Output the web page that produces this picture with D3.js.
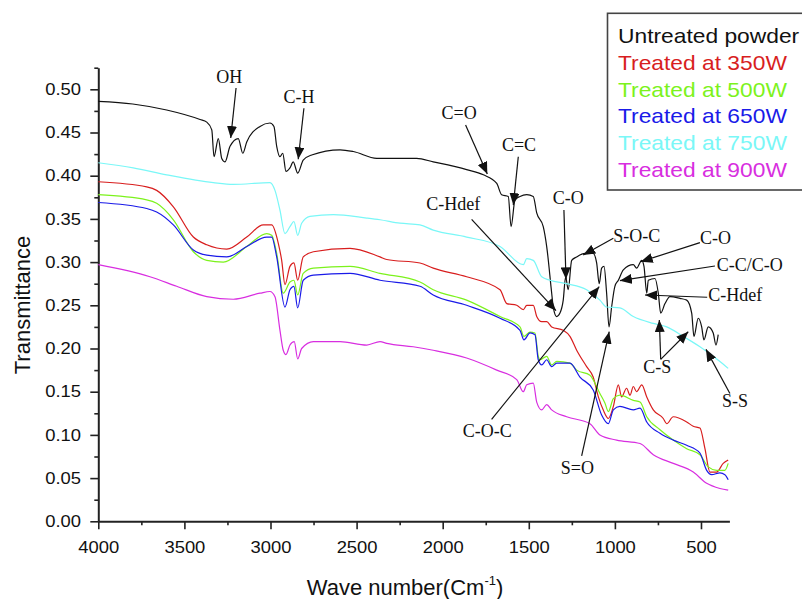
<!DOCTYPE html>
<html>
<head>
<meta charset="utf-8">
<script src="https://cdn.jsdelivr.net/npm/d3@7"></script>
<style>
  body { margin: 0; background: #fff; }
  svg { display: block; }
  text { font-family: "Liberation Sans", Arial, sans-serif; fill: #111; }
  .note { font-family: "Liberation Serif", "Times New Roman", serif; font-size: 18px; }
</style>
</head>
<body>
<svg id="graph" width="802" height="599"></svg>
<script>
// spectra: [wave number, transmittance]
const untreated = [
  [4000,0.486],[3800,0.483],[3603,0.476],[3409,0.465],[3370,0.462],[3341,0.453],[3328,0.422],[3303,0.443],
  [3283,0.420],[3264,0.416],[3235,0.434],[3187,0.443],[3161,0.426],[3138,0.439],[3061,0.457],[3003,0.461],
  [2980,0.457],[2964,0.434],[2945,0.422],[2929,0.426],[2910,0.405],[2887,0.409],[2868,0.416],[2842,0.403],
  [2810,0.418],[2761,0.424],[2596,0.430],[2519,0.428],[2383,0.420],[2151,0.420],[2055,0.416],[1861,0.407],
  [1764,0.401],[1686,0.391],[1658,0.378],[1619,0.376],[1603,0.341],[1580,0.372],[1551,0.376],[1512,0.378],
  [1474,0.376],[1454,0.357],[1416,0.341],[1396,0.318],[1367,0.264],[1358,0.248],[1338,0.237],[1319,0.241],
  [1300,0.256],[1286,0.283],[1271,0.268],[1251,0.302],[1222,0.306],[1174,0.310],[1126,0.310],[1106,0.299],
  [1091,0.275],[1077,0.293],[1063,0.295],[1048,0.264],[1034,0.225],[1019,0.248],[1000,0.272],[980,0.279],
  [951,0.291],[893,0.297],[874,0.293],[844,0.302],[831,0.295],[815,0.264],[806,0.279],[767,0.281],
  [748,0.264],[734,0.241],[709,0.252],[680,0.260],[622,0.258],[583,0.256],[554,0.241],[541,0.214],
  [516,0.235],[496,0.225],[483,0.210],[458,0.225],[429,0.218],[413,0.204],[400,0.216]
]

const treated_350 = [
  [4000,0.393],[3719,0.387],[3661,0.383],[3564,0.364],[3448,0.329],[3370,0.320],[3254,0.315],[3138,0.329],
  [3042,0.343],[2993,0.343],[2955,0.322],[2935,0.302],[2916,0.274],[2887,0.295],[2864,0.299],[2842,0.279],
  [2810,0.306],[2751,0.312],[2538,0.316],[2364,0.306],[2325,0.303],[2132,0.299],[2055,0.293],[1861,0.283],
  [1667,0.268],[1628,0.252],[1570,0.250],[1532,0.245],[1512,0.250],[1474,0.250],[1454,0.237],[1425,0.231],
  [1396,0.231],[1367,0.225],[1300,0.221],[1261,0.214],[1222,0.198],[1164,0.179],[1126,0.167],[1096,0.144],
  [1068,0.129],[1038,0.119],[1009,0.133],[980,0.158],[961,0.144],[932,0.154],[912,0.146],[893,0.156],
  [874,0.150],[844,0.158],[815,0.144],[777,0.129],[719,0.119],[699,0.113],[661,0.121],[583,0.115],
  [545,0.110],[506,0.108],[477,0.084],[448,0.057],[409,0.057],[371,0.067],[342,0.071]
]

const treated_500 = [
  [4000,0.378],[3719,0.372],[3661,0.368],[3564,0.349],[3448,0.312],[3370,0.302],[3274,0.300],[3138,0.318],
  [3022,0.333],[2993,0.331],[2964,0.310],[2926,0.264],[2887,0.277],[2864,0.279],[2842,0.262],[2810,0.287],
  [2751,0.293],[2538,0.295],[2364,0.287],[2132,0.277],[2055,0.268],[1861,0.256],[1667,0.237],[1551,0.225],
  [1528,0.214],[1493,0.219],[1464,0.218],[1445,0.191],[1435,0.187],[1396,0.191],[1367,0.181],[1338,0.185],
  [1261,0.183],[1222,0.175],[1145,0.169],[1087,0.148],[1058,0.137],[1038,0.127],[1009,0.142],[971,0.146],
  [893,0.140],[854,0.138],[815,0.121],[738,0.106],[661,0.094],[583,0.084],[506,0.077],[458,0.063],
  [409,0.059],[361,0.059],[342,0.067]
]

const treated_650 = [
  [4000,0.369],[3719,0.362],[3661,0.358],[3564,0.343],[3448,0.314],[3370,0.308],[3254,0.306],[3138,0.318],
  [3022,0.329],[2993,0.329],[2964,0.306],[2916,0.248],[2887,0.268],[2864,0.272],[2842,0.247],[2810,0.279],
  [2751,0.285],[2538,0.287],[2364,0.279],[2132,0.272],[2055,0.262],[1861,0.250],[1667,0.235],[1551,0.221],
  [1528,0.210],[1493,0.218],[1464,0.216],[1445,0.187],[1425,0.181],[1396,0.187],[1367,0.179],[1338,0.183],
  [1261,0.183],[1203,0.167],[1126,0.152],[1077,0.123],[1038,0.113],[1009,0.129],[971,0.133],[893,0.129],
  [854,0.131],[815,0.115],[738,0.102],[661,0.094],[583,0.088],[506,0.079],[467,0.059],[438,0.054],
  [390,0.056],[361,0.054],[342,0.048]
]

const treated_750 = [
  [4000,0.415],[3797,0.409],[3603,0.401],[3332,0.392],[3216,0.390],[3003,0.392],[2974,0.383],[2945,0.360],
  [2916,0.333],[2887,0.341],[2864,0.347],[2842,0.331],[2819,0.345],[2771,0.353],[2635,0.355],[2441,0.351],
  [2364,0.349],[2248,0.345],[2132,0.343],[2055,0.337],[1861,0.329],[1667,0.318],[1532,0.297],[1512,0.304],
  [1474,0.302],[1425,0.283],[1377,0.279],[1280,0.275],[1164,0.268],[1087,0.256],[1048,0.248],[971,0.247],
  [893,0.237],[777,0.229],[699,0.225],[603,0.214],[506,0.202],[390,0.185],[342,0.177]
]

const treated_900 = [
  [4000,0.297],[3700,0.283],[3545,0.272],[3370,0.260],[3216,0.257],[3061,0.264],[3003,0.266],[2974,0.260],
  [2945,0.221],[2926,0.198],[2910,0.193],[2887,0.204],[2862,0.208],[2842,0.188],[2819,0.200],[2751,0.208],
  [2596,0.208],[2441,0.204],[2364,0.208],[2325,0.206],[2171,0.202],[2055,0.198],[1861,0.189],[1686,0.175],
  [1570,0.164],[1532,0.150],[1512,0.158],[1474,0.160],[1454,0.138],[1425,0.129],[1396,0.135],[1367,0.129],
  [1280,0.121],[1145,0.113],[1087,0.100],[990,0.094],[854,0.090],[777,0.077],[661,0.067],[545,0.057],
  [467,0.044],[390,0.038],[342,0.036]
]

const series_names = ["Untreated powder", "Treated at 350W", "Treated at 500W", "Treated at 650W", "Treated at 750W", "Treated at 900W"]
const series_data = [untreated, treated_350, treated_500, treated_650, treated_750, treated_900]
const series_colors = ["#111111", "#d81e1e", "#7cf21c", "#1a1ae8", "#7af7f7", "#d82ee0"]

const x_ticks = [4000, 3500, 3000, 2500, 2000, 1500, 1000, 500]
const x_minor = [3750, 3250, 2750, 2250, 1750, 1250, 750]
const y_ticks = [0, 0.05, 0.10, 0.15, 0.20, 0.25, 0.30, 0.35, 0.40, 0.45, 0.50]
const y_minor = [0.025, 0.075, 0.125, 0.175, 0.225, 0.275, 0.325, 0.375, 0.425, 0.475, 0.525]

// band labels: label anchor point and arrows (from -> tip), all in data units
const annotations = [
  {text: "OH", at: [3239, 0.507], anchor: "middle", arrows: [[3200, 0.5015, 3231, 0.4436]]},
  {text: "C-H", at: [2835, 0.4845], anchor: "middle", arrows: [[2806, 0.478, 2839, 0.419]]},
  {text: "C=O", at: [1905, 0.4653], anchor: "middle", arrows: [[1867, 0.4587, 1741, 0.402]]},
  {text: "C=C", at: [1557, 0.429], anchor: "middle", arrows: [[1561, 0.422, 1590, 0.366]]},
  {text: "C-Hdef", at: [1939, 0.3603], anchor: "middle", arrows: [[1832, 0.3495, 1342, 0.2438]]},
  {text: "C-O", at: [1271, 0.3669], anchor: "middle", arrows: [[1296, 0.3603, 1284, 0.2801]]},
  {text: "S-O-C", at: [1009, 0.3236], anchor: "start", arrows: [[1009, 0.3275, 1184, 0.3082]]},
  {text: "C-O", at: [506, 0.321], anchor: "start", arrows: [[506, 0.3225, 850, 0.3005]]},
  {text: "C-C/C-O", at: [409, 0.290], anchor: "start", arrows: [[419, 0.2955, 971, 0.2785]]},
  {text: "C-Hdef", at: [458, 0.2555], anchor: "start", arrows: [[464, 0.2593, 825, 0.2619]]},
  {text: "C-S", at: [754, 0.1713], anchor: "middle", arrows: [[734, 0.1875, 742, 0.233], [734, 0.1875, 574, 0.2194]]},
  {text: "S-S", at: [303, 0.132], anchor: "middle", arrows: [[332, 0.148, 471, 0.199]]},
  {text: "C-O-C", at: [1741, 0.0979], anchor: "middle", arrows: [[1716, 0.118, 1091, 0.2715]]},
  {text: "S=O", at: [1218, 0.0544], anchor: "middle", arrows: [[1193, 0.0756, 1033, 0.2194]]}
]

const svg = d3.select("#graph")

const x = d3.scaleLinear().domain([4000, 335]).range([98.3, 729.4])
const y = d3.scaleLinear().domain([0, 0.525]).range([521.3, 67.7])

// horizontally stretched text, the picture's fonts run wide
function wide_text(parent, px, py, str, size, anchor, sx){
  return parent.append("text")
    .attr("transform", `translate(${px},${py}) scale(${sx},1)`)
    .attr("text-anchor", anchor)
    .style("font-size", size + "px")
    .text(str)
}

// axes
const y_axis = svg.append("g")
  .attr("transform", `translate(${x.range()[0]},0)`)
  .call(d3.axisLeft(y).tickValues(y_ticks).tickSize(8).tickSizeOuter(0).tickPadding(7).tickFormat(d3.format(".2f")))
y_axis.append("g")
  .call(d3.axisLeft(y).tickValues(y_minor).tickSize(4).tickFormat(""))
  .select(".domain").remove()

const x_axis = svg.append("g")
  .attr("transform", `translate(0,${y.range()[0]})`)
  .call(d3.axisBottom(x).tickValues(x_ticks).tickSize(8).tickSizeOuter(0).tickPadding(12).tickFormat(d3.format("d")))
x_axis.append("g")
  .call(d3.axisBottom(x).tickValues(x_minor).tickSize(4).tickFormat(""))
  .select(".domain").remove()

svg.selectAll(".domain").attr("stroke", "#222").attr("stroke-width", 2)
svg.selectAll(".tick line").attr("stroke", "#222").attr("stroke-width", 1.6)
svg.selectAll(".tick text")
  .attr("fill", "#111")
  .style("font-family", "'Liberation Sans', Arial, sans-serif")
  .style("font-size", "16px")
  .attr("transform", "scale(1.15,1)")

// axis titles
svg.append("text")
  .attr("transform", "translate(30,305) rotate(-90)")
  .attr("text-anchor", "middle")
  .style("font-size", "22px")
  .text("Transmittance")

const x_title = svg.append("text")
  .attr("x", 405)
  .attr("y", 595)
  .attr("text-anchor", "middle")
  .style("font-size", "22px")
x_title.append("tspan").text("Wave number(Cm")
x_title.append("tspan").attr("dy", -10).style("font-size", "13px").text("-1")
x_title.append("tspan").attr("dy", 10).text(")")

// spectra
const line = d3.line().x(d => x(d[0])).y(d => y(d[1])).curve(d3.curveMonotoneX)

svg.append("g")
  .selectAll("path")
  .data(series_data)
  .enter()
  .append("path")
  .attr("d", line)
  .attr("fill", "none")
  .attr("stroke", (d, i) => series_colors[i])
  .attr("stroke-width", 1.2)
  .attr("stroke-linejoin", "round")

// arrow heads
svg.append("defs").append("marker")
  .attr("id", "head")
  .attr("markerUnits", "userSpaceOnUse")
  .attr("markerWidth", 13)
  .attr("markerHeight", 10)
  .attr("refX", 12)
  .attr("refY", 5)
  .attr("orient", "auto")
  .append("path")
  .attr("d", "M0,0 L12,5 L0,10 Z")
  .attr("fill", "#111")

const notes = svg.append("g")
annotations.forEach(a => {
  a.arrows.forEach(r => {
    notes.append("line")
      .attr("x1", x(r[0])).attr("y1", y(r[1]))
      .attr("x2", x(r[2])).attr("y2", y(r[3]))
      .attr("stroke", "#111")
      .attr("stroke-width", 1.2)
      .attr("marker-end", "url(#head)")
  })
  notes.append("text")
    .attr("class", "note")
    .attr("x", x(a.at[0]))
    .attr("y", y(a.at[1]))
    .attr("text-anchor", a.anchor)
    .text(a.text)
})

// legend
const legend = svg.append("g")
legend.append("rect")
  .attr("x", 607.5)
  .attr("y", 13.3)
  .attr("width", 210)
  .attr("height", 176.7)
  .attr("fill", "#fff")
  .attr("stroke", "#444")
  .attr("stroke-width", 1.6)

series_names.forEach((name, i) => {
  wide_text(legend, 618, 42.7 + i * 26.9, name, 20, "start", 1.14)
    .style("fill", series_colors[i])
})
</script>
</body>
</html>
